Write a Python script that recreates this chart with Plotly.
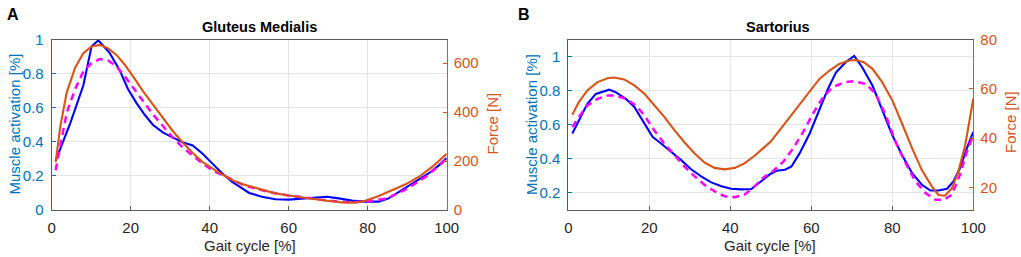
import plotly.graph_objects as go

# ---------------- Data ----------------
# Panel A: Gluteus Medialis
gm_blue_x = [1, 4.7, 8, 10.1, 11.8, 14.7, 17.2, 19.3, 21.4, 23.5, 25.6, 28.1, 30.6, 33.1, 35.7, 38.2,
             40.7, 43.2, 45.7, 48.2, 50, 53.2, 56.6, 60, 63.4, 66.8, 69.7, 72.7, 76, 79.4, 82.8, 85.3,
             88.7, 92.1, 95.4, 98, 100]
gm_blue_y = [0.29, 0.51, 0.73, 0.96, 0.995, 0.92, 0.82, 0.71, 0.63, 0.56, 0.50, 0.455, 0.426, 0.397,
             0.378, 0.33, 0.272, 0.214, 0.165, 0.126, 0.10, 0.078, 0.063, 0.061, 0.068, 0.074, 0.078,
             0.068, 0.055, 0.049, 0.049, 0.068, 0.117, 0.165, 0.214, 0.262, 0.305]

gm_mag_x = [1, 2.2, 3.8, 5.9, 8, 10.1, 12.2, 14.3, 16.4, 18.5, 20.6, 23.1, 25.6, 28.1, 30.6, 33.1,
            35.7, 38.2, 40.7, 43.2, 45.7, 48.2, 50, 55, 60, 65, 70, 75, 80, 85, 90, 95, 100]
gm_mag_y = [0.233, 0.378, 0.57, 0.707, 0.813, 0.862, 0.885, 0.877, 0.842, 0.784, 0.717, 0.639, 0.562,
            0.494, 0.426, 0.368, 0.32, 0.272, 0.233, 0.204, 0.175, 0.15, 0.136, 0.105, 0.085, 0.068,
            0.055, 0.045, 0.05, 0.068, 0.125, 0.2, 0.3]

gm_force_x = [1, 2.2, 3.8, 5.9, 8, 10.1, 12.2, 14.3, 16.4, 18.5, 20.6, 23.1, 25.6, 28.1, 30.6, 33.1,
              35.7, 38.2, 40.7, 43.2, 45.7, 48.2, 50, 53.2, 56.6, 60, 63.4, 66.8, 70.1, 73.5, 76.9,
              79.4, 82.8, 86.2, 89.6, 92.9, 96.3, 100]
gm_force_y = [196, 344, 480, 581, 641, 668, 675, 661, 634, 594, 546, 486, 432, 378, 324, 277, 233,
              196, 169, 145, 122, 106, 98, 82, 68, 59, 50, 44, 37, 31, 30, 38, 57, 82, 105, 135, 176,
              230]

# Panel B: Sartorius
sa_blue_x = [1, 2.2, 4.7, 6.8, 8.4, 10.1, 11.7, 14.2, 16.3, 18.8, 20.8, 22.9, 25.4, 27.8, 30.3, 32.8,
             35.3, 37.8, 40.2, 42.7, 45.2, 47.7, 49.8, 51.4, 53.5, 55.1, 57.1, 59.6, 62, 64.1, 66.1,
             68.6, 70.6, 72.6, 75.1, 77.5, 80, 82.4, 84.9, 87.3, 89.4, 91.4, 93.5, 95.1, 96.7, 98.4,
             100]
sa_blue_y = [0.549, 0.607, 0.723, 0.781, 0.791, 0.806, 0.791, 0.752, 0.704, 0.607, 0.529, 0.49, 0.442,
             0.394, 0.339, 0.297, 0.262, 0.239, 0.225, 0.221, 0.223, 0.268, 0.31, 0.33, 0.336, 0.355,
             0.432, 0.549, 0.694, 0.81, 0.907, 0.969, 1.004, 0.936, 0.83, 0.684, 0.539, 0.423, 0.316,
             0.248, 0.214, 0.214, 0.225, 0.268, 0.345, 0.461, 0.558]

sa_mag_x = [1, 2.6, 4.7, 7.2, 9.7, 11.7, 14.2, 16.7, 18.8, 21.2, 23.7, 26.2, 28.7, 31.2, 33.6, 36.1,
            38.6, 41.1, 43.5, 46, 48.5, 50, 53.1, 55.5, 58, 60.4, 62.9, 65.3, 68.2, 70.6, 73.5, 75.9,
            78.4, 80.8, 83.3, 85.7, 88.2, 90.6, 92.6, 94.7, 96.7, 98.4, 100]
sa_mag_y = [0.587, 0.646, 0.713, 0.752, 0.771, 0.771, 0.752, 0.713, 0.655, 0.568, 0.49, 0.423, 0.355,
            0.297, 0.248, 0.21, 0.181, 0.175, 0.19, 0.239, 0.297, 0.316, 0.384, 0.461, 0.558, 0.665,
            0.762, 0.82, 0.849, 0.855, 0.839, 0.781, 0.655, 0.5, 0.374, 0.268, 0.2, 0.161, 0.157,
            0.19, 0.307, 0.442, 0.539]

sa_force_x = [1, 2.6, 4.7, 7.2, 9.7, 11.3, 13.8, 16.3, 18.8, 21.2, 23.7, 26.2, 28.7, 31.2, 33.6,
              36.1, 38.6, 41.1, 43.5, 46, 48.5, 50, 52.2, 54.7, 57.1, 59.6, 62, 64.5, 66.9, 69.4,
              71, 73, 75.1, 77.5, 80, 82.4, 84.9, 87.3, 89.8, 91.4, 93, 94.7, 96.3, 98, 100]
sa_force_y = [49.5, 54.6, 59.3, 62.7, 64.3, 64.6, 63.8, 61.4, 58, 53.5, 48.6, 43.2, 38.2, 33.7, 30.1,
              27.9, 27.3, 27.9, 29.7, 32.8, 36.4, 38.6, 43.2, 48.6, 53.9, 59.3, 64, 67.4, 70.1, 71.5,
              71.7, 70.8, 68.1, 62.7, 55.3, 45.9, 35.8, 27, 20.3, 16.9, 16.6, 19.6, 26.3, 37.1, 56]

x_ticks = [0, 20, 40, 60, 80, 100]
gm_act_ticks = [0, 0.2, 0.4, 0.6, 0.8, 1]
gm_act_labels = ["0", "0.2", "0.4", "0.6", "0.8", "1"]
gm_force_ticks = [0, 200, 400, 600]
sa_act_ticks = [0.2, 0.4, 0.6, 0.8, 1]
sa_act_labels = ["0.2", "0.4", "0.6", "0.8", "1"]
sa_force_ticks = [20, 40, 60, 80]

titles = ["Gluteus Medialis", "Sartorius"]
panel_letters = ["A", "B"]

# ---------------- Styling ----------------
W, H = 1021, 257
BLUE_AX = "#0072BD"
ORANGE = "#D95319"
DARK = "#262626"
AXLINE = "#5a5a5a"
GRID = "#E2E5E9"
FONT = "Liberation Sans, Arial, sans-serif"
FS = 15


def px_x(p):
    return p / W


def px_y(p):
    return 1 - p / H


yb, yt = px_y(210), px_y(39.5)
domA = [px_x(51.7), px_x(446.7)]
domB = [px_x(568.3), px_x(973.3)]

fig = go.Figure()

line_w = 2.1
# Panel A
fig.add_trace(go.Scatter(x=gm_blue_x, y=gm_blue_y, mode="lines", line=dict(color="#0000FF", width=line_w),
                         xaxis="x", yaxis="y", showlegend=False))
fig.add_trace(go.Scatter(x=gm_mag_x, y=gm_mag_y, mode="lines",
                         line=dict(color="#FF00FF", width=line_w + 0.4, dash="7px,5px"),
                         xaxis="x", yaxis="y", showlegend=False))
fig.add_trace(go.Scatter(x=gm_force_x, y=gm_force_y, mode="lines", line=dict(color=ORANGE, width=line_w),
                         xaxis="x", yaxis="y2", showlegend=False))
# Panel B
fig.add_trace(go.Scatter(x=sa_blue_x, y=sa_blue_y, mode="lines", line=dict(color="#0000FF", width=line_w),
                         xaxis="x2", yaxis="y3", showlegend=False))
fig.add_trace(go.Scatter(x=sa_mag_x, y=sa_mag_y, mode="lines",
                         line=dict(color="#FF00FF", width=line_w + 0.4, dash="7px,5px"),
                         xaxis="x2", yaxis="y3", showlegend=False))
fig.add_trace(go.Scatter(x=sa_force_x, y=sa_force_y, mode="lines", line=dict(color=ORANGE, width=line_w),
                         xaxis="x2", yaxis="y4", showlegend=False))


def xaxis(dom, anchor):
    return dict(domain=dom, anchor=anchor, range=[0, 100], tickvals=x_ticks, automargin=False,
                showgrid=True, gridcolor=GRID, gridwidth=1, zeroline=False,
                showline=True, linecolor=AXLINE, linewidth=1, mirror=True,
                ticks="inside", ticklen=4, tickcolor=AXLINE, ticklabelstandoff=4,
                tickfont=dict(family=FONT, size=FS, color=DARK))


def yleft(anchor, rng, tv, tt):
    return dict(domain=[yb, yt], anchor=anchor, range=rng, tickvals=tv, ticktext=tt, automargin=False,
                showgrid=True, gridcolor=GRID, gridwidth=1, zeroline=False,
                showline=True, linecolor=BLUE_AX, linewidth=1,
                ticks="inside", ticklen=4, tickcolor=BLUE_AX, ticklabelstandoff=4,
                tickfont=dict(family=FONT, size=FS, color=BLUE_AX))


def yright(anchor, overlay, rng, tv):
    return dict(domain=[yb, yt], anchor=anchor, overlaying=overlay, side="right", range=rng,
                tickvals=tv, showgrid=False, zeroline=False, automargin=False,
                showline=True, linecolor=ORANGE, linewidth=1,
                ticks="inside", ticklen=4, tickcolor=ORANGE, ticklabelstandoff=3,
                tickfont=dict(family=FONT, size=FS, color=ORANGE))


annotations = []


def ann(text, x, y, size=FS, color=DARK, bold=False, angle=0):
    t = f"<b>{text}</b>" if bold else text
    annotations.append(dict(text=t, x=px_x(x), y=px_y(y), xref="paper", yref="paper",
                            xanchor="center", yanchor="middle", showarrow=False, textangle=angle,
                            font=dict(family=FONT, size=size, color=color)))


# Panel letters and titles
ann(panel_letters[0], 12.5, 14, size=16, color="#000000", bold=True)
ann(panel_letters[1], 524, 14, size=16, color="#000000", bold=True)
ann(titles[0], 259, 27, size=14.5, color="#000000", bold=True)
ann(titles[1], 778, 27, size=14.5, color="#000000", bold=True)
# Axis titles
ann("Muscle activation [%]", 14, 124.5, color=BLUE_AX, angle=-90)
ann("Force [N]", 491.5, 124, color=ORANGE, angle=-90)
ann("Muscle activation [%]", 531.5, 124.5, color=BLUE_AX, angle=-90)
ann("Force [N]", 1010, 122, color=ORANGE, angle=-90)
ann("Gait cycle [%]", 250, 245, color=DARK)
ann("Gait cycle [%]", 770, 245, color=DARK)

fig.update_layout(
    width=W, height=H,
    margin=dict(l=0, r=0, t=0, b=0, autoexpand=False),
    paper_bgcolor="white", plot_bgcolor="white",
    xaxis=xaxis(domA, "y"),
    yaxis=yleft("x", [0, 1], gm_act_ticks, gm_act_labels),
    yaxis2=yright("x", "y", [0, 697], gm_force_ticks),
    xaxis2=xaxis(domB, "y3"),
    yaxis3=yleft("x2", [0.1, 1.1], sa_act_ticks, sa_act_labels),
    yaxis4=yright("x2", "y3", [10.8, 80], sa_force_ticks),
    annotations=annotations,
    showlegend=False,
)

# remove the browser's default page margin so the figure sits at the window's top-left corner
fig.write_html("out.html",
               config={"displayModeBar": False},
               post_script="document.body.style.margin='0';document.body.style.overflow='hidden';")
